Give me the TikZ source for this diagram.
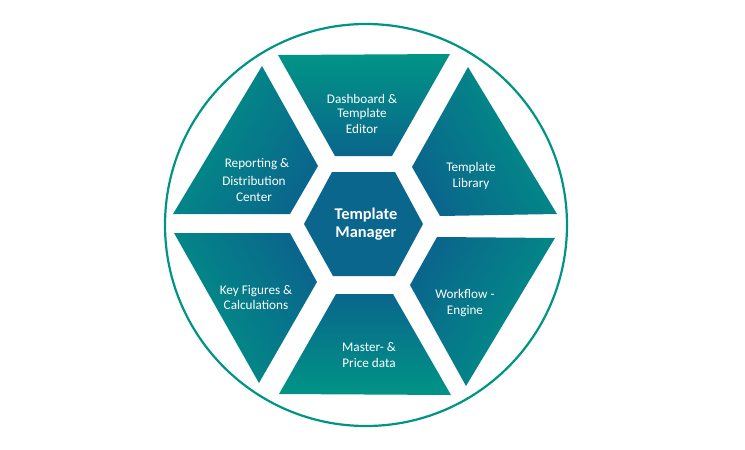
\documentclass[tikz,border=0pt]{standalone}
\usepackage{fontspec}
\setmainfont{Carlito}
\definecolor{tealc}{RGB}{0,148,134}
\definecolor{bluec}{RGB}{10,102,140}
\tikzset{
  x=1pt,y=-1pt,
  ringline/.style={draw=tealc,line width=2.2pt},
  segment/.style={shade,top color=tealc,bottom color=bluec},
  hexcore/.style={fill=bluec},
  seglabel/.style={text=white,font=\fontsize{13.2pt}{14pt}\selectfont,align=center,inner sep=0pt},
  corelabel/.style={text=white,font=\bfseries\fontsize{16.4pt}{18pt}\selectfont,align=center,inner sep=0pt}
}
\begin{document}
\begin{tikzpicture}
\useasboundingbox (0,0) rectangle (745,450);
\draw[ringline] (366,225) circle[radius=201];
\path[segment,shading angle=0] (278,55) -- (450,54) -- (392,156) -- (335,156) -- cycle;
\path[segment,shading angle=-60] (468,67) -- (557,214) -- (440,216) -- (412,167) -- cycle;
\path[segment,shading angle=-120] (437,237) -- (555,238) -- (466,386) -- (410,285) -- cycle;
\path[segment,shading angle=180] (336,294) -- (393,294) -- (451,395) -- (279,394) -- cycle;
\path[segment,shading angle=120] (174,233) -- (290,233) -- (317,282) -- (259,383) -- cycle;
\path[segment,shading angle=60] (262,66) -- (318,166) -- (290,214) -- (173,214) -- cycle;
\path[hexcore] (304,224) -- (332,172) -- (395,172) -- (423,224) -- (395,276) -- (333,276) -- cycle;
\node[corelabel] (core) at (366,224) {Template\\Manager};
\node[seglabel] (dash) at (362,114) {Dashboard \&\\Template\\[2pt]Editor};
\node[seglabel] (lib) at (471,176) {Template\\[2pt]Library};
\node[seglabel] (flow) at (465,303) {Workflow -\\[2pt]Engine};
\node[seglabel] (master) at (369,355) {Master- \&\\[2pt]Price data};
\node[seglabel] (key) at (256,297.5) {Key Figures \&\\[1pt]Calculations};
\node[seglabel] (rep) at (254,180) {\hspace*{6pt}Reporting \&\\[4pt]Distribution\\[2pt]Center};
\end{tikzpicture}
\end{document}
